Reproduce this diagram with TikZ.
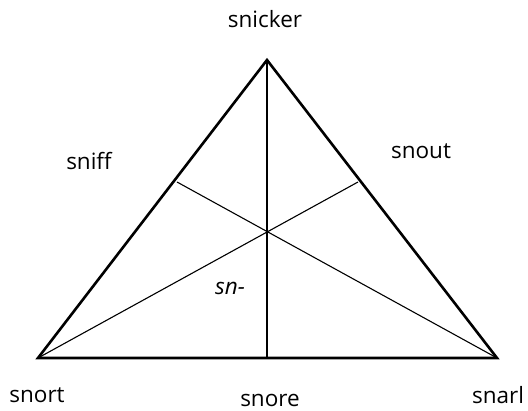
\documentclass[tikz,border=0pt]{standalone}
\usepackage{fontspec}
\setmainfont{Open Sans}
\usepackage{tikz}
\usetikzlibrary{positioning, calc}

\tikzset{
    word/.style={font=\fontsize{22.5}{27}\selectfont, inner sep=0pt},
    edge/.style={line width=2.6pt, line join=miter},
    ray/.style={line width=1.1pt}
}

\begin{document}
\begin{tikzpicture}[x=1pt, y=-1pt]
        \useasboundingbox (0,0) rectangle (528,411);

        % corners of the triangle
        \coordinate (top) at (267,60);
        \coordinate (left) at (38,358);
        \coordinate (right) at (497,358);

        % where the inner lines meet the sides
        \coordinate (mid) at (267,231);
        \coordinate (footB) at (267,358);
        \coordinate (footL) at (177,182);
        \coordinate (footR) at (358,182);

        \draw[ray] (top) -- (footB);
        \draw[ray] (left) -- (footR);
        \draw[ray] (right) -- (footL);

        \draw[edge] (top) -- (left) -- (right) -- cycle;

        \node[word] (snicker) at (265,19) {snicker};
        \node[word] (sniff) at (89,161) {sniff};
        \node[word] (snout) at (421,151) {snout};
        \node[word] (snort) at (37,395) {snort};
        \node[word] (snore) at (270,400) {snore};
        \node[word] (snarl) at (498,395) {snarl};
        \node[word, font=\fontsize{22.5}{27}\selectfont\itshape] (prefix) at (230,288) {sn-};
    \end{tikzpicture}
\end{document}
